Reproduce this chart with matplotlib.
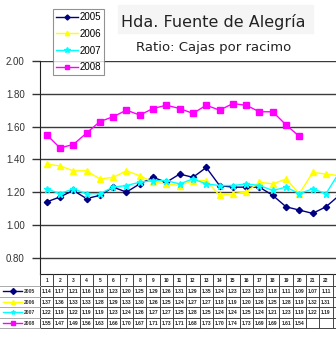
import matplotlib.pyplot as plt
import numpy as np
from matplotlib.lines import Line2D

# Ratio cajas por racimo, semana 1..23
semanas = list(range(1, 24))
r2005 = [1.14, 1.17, 1.21, 1.16, 1.18, 1.23, 1.20, 1.25, 1.29, 1.26, 1.31, 1.29,
         1.35, 1.24, 1.23, 1.23, 1.23, 1.18, 1.11, 1.09, 1.07, 1.11, 1.18]
r2006 = [1.37, 1.36, 1.33, 1.33, 1.28, 1.29, 1.33, 1.30, 1.26, 1.25, 1.24, 1.27,
         1.27, 1.18, 1.19, 1.20, 1.26, 1.25, 1.28, 1.19, 1.32, 1.31, 1.30]
r2007 = [1.22, 1.19, 1.22, 1.19, 1.19, 1.23, 1.24, 1.26, 1.27, 1.27, 1.25, 1.28,
         1.25, 1.24, 1.24, 1.25, 1.24, 1.21, 1.23, 1.19, 1.22, 1.19, 1.32]
r2008 = [1.55, 1.47, 1.49, 1.56, 1.63, 1.66, 1.70, 1.67, 1.71, 1.73, 1.71, 1.68,
         1.73, 1.70, 1.74, 1.73, 1.69, 1.69, 1.61, 1.54]
anios = ["2005", "2006", "2007", "2008"]
series = [r2005, r2006, r2007, r2008]
colores = ["#000080", "#FFFF00", "#00FFFF", "#FF00FF"]
marcadores = ["D", "^", "*", "s"]
msizes = [3.2, 4, 5, 4]

W, H = 336, 337
plt.rcParams['font.family'] = ['Liberation Sans', 'DejaVu Sans']
fig = plt.figure(figsize=(W / 100, H / 100), dpi=100)

# pixel layout
x0, colw = 40, 13.3
ytop, ybot = 61, 274
ax = fig.add_axes([x0 / W, 1 - ybot / H, colw * 23 / W, (ybot - ytop) / H])
ax.set_xlim(0.5, 23.5)
ax.set_ylim(0.7, 2.0)

for vals, c, m, ms, lab in zip(series, colores, marcadores, msizes, anios):
    ax.plot(semanas[:len(vals)], vals, color=c, marker=m, markersize=ms,
            linewidth=1, label=lab)

ax.set_yticks([0.8, 1.0, 1.2, 1.4, 1.6, 1.8, 2.0])
ax.set_yticklabels([f"{v:.2f}" for v in ax.get_yticks()], fontsize=7, color="#333333")
ax.yaxis.grid(True, color="#3a3a3a", linewidth=1)
ax.set_axisbelow(True)
ax.tick_params(axis='y', length=6, width=1, color="#333333", pad=5)
ax.set_xticks([])
for s in ["top", "right"]:
    ax.spines[s].set_visible(False)
ax.spines["left"].set_color("#222222")
ax.spines["bottom"].set_color("#222222")

leg = ax.legend(loc="upper left", bbox_to_anchor=(53 / W, 1 - 9 / H),
                bbox_transform=fig.transFigure, fontsize=7, frameon=True,
                fancybox=False, edgecolor="#777777", borderpad=0.3,
                labelspacing=0.7, handlelength=2.3, handletextpad=0.15,
                borderaxespad=0, markerscale=0.8)
leg.get_frame().set_linewidth(0.8)

# title block
fig.patches.append(plt.Rectangle((118 / W, 1 - 33 / H), 195 / W, 28 / H,
                                 transform=fig.transFigure, color="#f5f5f5", zorder=0))
fig.text(213 / W, 1 - 22 / H, "Hda. Fuente de Alegría", ha="center", va="center",
         fontsize=11.5, family="DejaVu Sans", color="#222222")
fig.text(214 / W, 1 - 48 / H, "Ratio: Cajas por racimo", ha="center", va="center",
         fontsize=9.5, family="DejaVu Sans", color="#222222")

# data table under the chart
tax = fig.add_axes([0, 0, 1, 1], facecolor="none")
tax.set_xlim(0, W)
tax.set_ylim(H, 0)
tax.axis("off")
hrow = 12
drow = 10.5
yrows = [ybot + hrow + drow * i for i in range(5)]
ncol = len(semanas)
xcols = [x0 + colw * k for k in range(ncol + 1)]
tsize = 3.6
nvis = 22  # columns that fit inside the figure

for k, s in enumerate(semanas[:nvis]):
    tax.text(x0 + colw * (k + 0.5), ybot + hrow / 2 + 0.5, str(s), ha="center",
             va="center", fontsize=tsize, fontweight="bold", color="#222222")
for i, (vals, c, m, lab) in enumerate(zip(series, colores, marcadores, anios)):
    yc = yrows[i] + drow / 2
    for k, v in enumerate(vals[:nvis]):
        tax.text(x0 + colw * (k + 0.5), yc + 0.3, f"{v:.2f}", ha="center",
                 va="center", fontsize=tsize, fontweight="bold", color="#222222")
    tax.add_line(Line2D([3, 22], [yc, yc], color=c, linewidth=1))
    tax.plot([12.5], [yc], marker=m, color=c, markersize=3)
    tax.text(24, yc + 0.3, lab, ha="left", va="center", fontsize=tsize,
             fontweight="bold", color="#333333")

# table rules
for xc in xcols:
    tax.add_line(Line2D([xc, xc], [ybot, yrows[-1]], color="#444444", linewidth=0.7))
for yr in yrows:
    tax.add_line(Line2D([x0, xcols[-1]], [yr, yr], color="#444444", linewidth=0.7))
    tax.add_line(Line2D([0, x0], [yr, yr], color="#aaaaaa", linewidth=0.7))

fig.savefig("out.png", dpi=100)
